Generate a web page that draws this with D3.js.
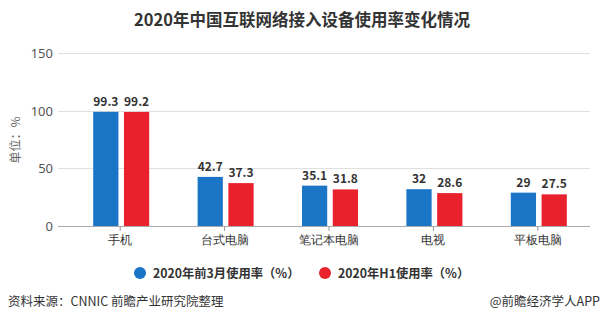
<!DOCTYPE html>
<html><head><meta charset="utf-8">
<script src="https://cdn.jsdelivr.net/npm/d3@7"></script>
<style>
html,body{margin:0;padding:0;background:#fff;}
svg{display:block;font-family:"Noto Sans CJK SC","Noto Sans",sans-serif;}
</style></head>
<body><svg id="c" width="605" height="324"></svg>
<script>
const title = "2020年中国互联网络接入设备使用率变化情况";
const categories = ["手机","台式电脑","笔记本电脑","电视","平板电脑"];
const seriesNames = ["2020年前3月使用率（%）","2020年H1使用率（%）"];
const seriesColors = ["#1b75c6","#e8212d"];
const march = [99.3,42.7,35.1,32,29];
const h1 = [99.2,37.3,31.8,28.6,27.5];
const yTicks = [0,50,100,150];
const yTitle = "单位：%";
const source = "资料来源：CNNIC 前瞻产业研究院整理";
const credit = "@前瞻经济学人APP";

const svg = d3.select("#c");
const x = d3.scaleBand().domain(categories).range([68,590]);
const y = d3.scaleLinear().domain([0,150]).range([226,53.5]);
const inner = d3.scaleBand().domain([0,1]).range([-27,29]).paddingInner(0.18);

svg.append("text").attr("x",302).attr("y",26).attr("text-anchor","middle")
  .attr("font-size",16.5).attr("font-weight","bold").attr("fill","#333").text(title);

// grid
svg.append("g").selectAll("line").data(yTicks.filter(d=>d>0)).join("line")
  .attr("x1",58).attr("x2",590).attr("y1",d=>y(d)).attr("y2",d=>y(d))
  .attr("stroke","#e0e0e0").attr("stroke-width",1).attr("shape-rendering","crispEdges");

// y labels
const ya = svg.append("g").attr("transform","translate(58,0)")
  .call(d3.axisLeft(y).tickValues(yTicks).tickSize(0).tickPadding(5));
ya.select(".domain").remove();
ya.selectAll("text").attr("font-size",13).attr("fill","#555").attr("font-family","'Noto Sans','Liberation Sans',sans-serif");

svg.append("text").attr("transform","translate(20,140) rotate(-90)").attr("text-anchor","middle")
  .attr("font-size",12).attr("fill","#666").text(yTitle);

// bars
const data = categories.map((c,i)=>({c,vals:[march[i],h1[i]]}));
const grp = svg.append("g").selectAll("g").data(data).join("g")
  .attr("transform",d=>`translate(${x(d.c)+x.bandwidth()/2},0)`);
grp.selectAll("rect").data(d=>d.vals.map((v,k)=>({v,k}))).join("rect")
  .attr("x",d=>inner(d.k)).attr("width",inner.bandwidth())
  .attr("y",d=>y(d.v)).attr("height",d=>y(0)-y(d.v))
  .attr("fill",d=>seriesColors[d.k]);
grp.selectAll("text.v").data(d=>d.vals.map((v,k)=>({v,k}))).join("text")
  .attr("class","v").attr("x",d=>inner(d.k)+inner.bandwidth()/2).attr("y",d=>y(d.v)-6)
  .attr("text-anchor","middle").attr("font-size",12).attr("font-weight","bold").attr("fill","#333")
  .text(d=>d.v);

// x axis
const xa = svg.append("g").attr("transform",`translate(0,${y(0)})`)
  .call(d3.axisBottom(x).tickSize(5).tickPadding(4));
xa.select(".domain").attr("d","M58,0.5H590").attr("stroke","#aaa");
xa.selectAll(".tick line").attr("stroke","#999");
xa.selectAll("text").attr("font-size",12).attr("fill","#333");

// legend
const lg = svg.append("g");
const lx = [140,325];
seriesNames.forEach((n,i)=>{
  lg.append("circle").attr("cx",lx[i]).attr("cy",273).attr("r",6).attr("fill",seriesColors[i]);
  lg.append("text").attr("x",lx[i]+13).attr("y",277.5).attr("font-size",12.3).attr("font-weight","bold")
    .attr("fill","#333").text(n);
});

// footer
svg.append("text").attr("x",8).attr("y",306).attr("font-size",12.5).attr("fill","#333").text(source);
svg.append("text").attr("x",600).attr("y",306).attr("text-anchor","end").attr("font-size",12.5).attr("fill","#333").text(credit);
</script></body></html>
